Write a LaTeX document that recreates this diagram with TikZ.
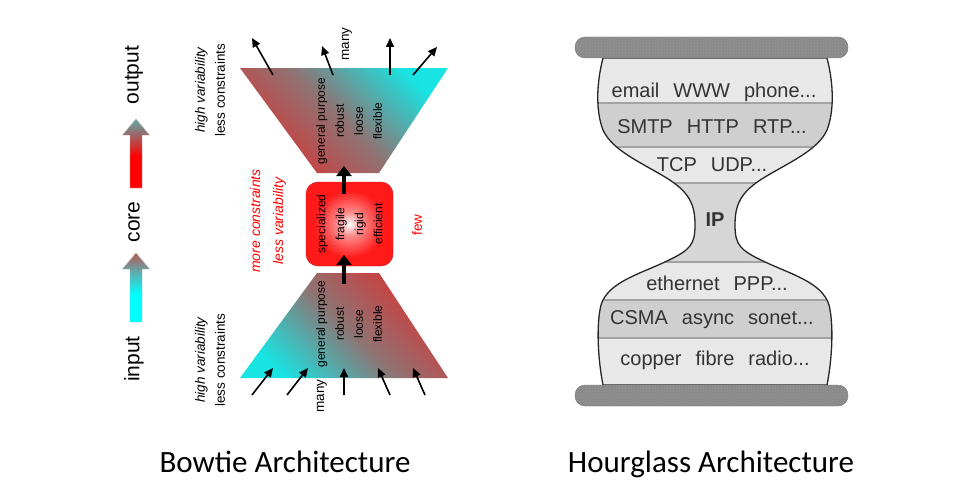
\documentclass[tikz,border=0pt]{standalone}
\usepackage{fontspec}
\setmainfont{Liberation Sans}
\newfontfamily\capfont{Carlito}
\usetikzlibrary{positioning, calc, arrows.meta, patterns}
\definecolor{bowRed}{HTML}{D63636}
\definecolor{bowTeal}{HTML}{19E3E3}
\definecolor{bowMid}{HTML}{8E7474}
\definecolor{legRed}{HTML}{FF0000}
\definecolor{legCyan}{HTML}{00FFFF}
\definecolor{legTop}{HTML}{5FA9A9}
\definecolor{legTopRed}{HTML}{B85656}
\definecolor{legMidTeal}{HTML}{57B3B3}
\definecolor{coreRed}{HTML}{FF1A1A}
\definecolor{corePink}{HTML}{FF8C8C}
\definecolor{coreEdge}{HTML}{C21212}
\definecolor{hgLight}{HTML}{E8E8E8}
\definecolor{hgDark}{HTML}{CFCFCF}
\definecolor{hgNeck}{HTML}{D6D6D6}
\definecolor{hgLine}{HTML}{A3A3A3}
\definecolor{hgBar}{HTML}{8A8A8A}
\definecolor{hgText}{HTML}{333333}

\pgfdeclareverticalshading{outArrow}{100bp}{color(0bp)=(legRed); color(25bp)=(legRed); color(48bp)=(legRed); color(66bp)=(bowMid); color(75bp)=(legTop); color(100bp)=(legTop)}
\pgfdeclareverticalshading{inArrow}{100bp}{color(0bp)=(legCyan); color(25bp)=(legCyan); color(45bp)=(legCyan); color(60bp)=(legMidTeal); color(75bp)=(legTopRed); color(100bp)=(legTopRed)}
\pgfdeclareradialshading{coreGlow}{\pgfpointorigin}{color(0bp)=(white); color(7bp)=(corePink); color(20bp)=(coreRed); color(50bp)=(coreRed)}

% word gap in the layer labels
\newcommand{\lgap}{\hspace{0.7em}}

% outline of the hourglass body
\newcommand{\hourglassPath}{(603,58) .. controls (596,85) and (596,112) .. (603,130)
  .. controls (612,150) and (640,162) .. (665,177)
  .. controls (690,192) and (695,205) .. (695,225)
  .. controls (695,245) and (690,250) .. (667,261)
  .. controls (640,274) and (608,282) .. (601,305)
  .. controls (596,325) and (598,360) .. (603,385)
  -- (827,385)
  .. controls (832,360) and (834,325) .. (829,305)
  .. controls (822,282) and (790,274) .. (763,261)
  .. controls (740,250) and (735,245) .. (735,225)
  .. controls (735,205) and (740,192) .. (765,177)
  .. controls (790,162) and (818,150) .. (827,130)
  .. controls (834,112) and (834,85) .. (827,58)
  -- cycle}

\begin{document}
\begin{tikzpicture}[x=1pt, y=-1pt,
    legtxt/.style={rotate=90, font=\fontsize{21}{24}\selectfont},
    bowtxt/.style={rotate=90, align=center, font=\fontsize{12}{19}\selectfont},
    sidetxt/.style={rotate=90, align=center, font=\fontsize{13.5}{20}\selectfont},
    redtxt/.style={rotate=90, align=center, text=legRed, font=\fontsize{14}{23}\selectfont\itshape},
    corebox/.style={rotate=90, rounded corners=12pt, shade, shading=coreGlow, draw=coreEdge,
        minimum width=84pt, minimum height=87pt, inner sep=0pt, align=center,
        font=\fontsize{12}{19}\selectfont},
    fatarr/.style={-{Triangle[length=10pt, width=15pt]}, line width=4pt},
    thinarr/.style={-{Triangle[length=9pt, width=8pt]}, line width=1.6pt},
    layertxt/.style={text=hgText, font=\fontsize{20}{22}\selectfont},
    bandline/.style={hgLine, line width=1.5pt},
    bar/.style={rounded corners=10pt, fill=hgBar, draw=black!55},
    captxt/.style={anchor=base, font=\capfont\fontsize{31}{36}\selectfont},
]
\useasboundingbox (0,0) rectangle (960,495);

% legend
\foreach \yb/\shd in {188/outArrow, 322/inArrow}
  \path[shade, shading=\shd, draw=black!30]
    (130,\yb) -- (130,{\yb-53}) -- (122.5,{\yb-53}) -- (136,{\yb-69})
    -- (149.5,{\yb-53}) -- (142,{\yb-53}) -- (142,\yb) -- cycle;
\node[legtxt] (outLbl) at (134,75) {output};
\node[legtxt] (coreLbl) at (134,222) {core};
\node[legtxt] (inLbl) at (134,359) {input};

% bowtie
\shade[bottom color=bowRed, top color=bowTeal, middle color=bowMid, shading angle=-45]
  (240,68) -- (448,68) -- (379,173) -- (317,173) -- cycle;
\shade[bottom color=bowTeal, top color=bowRed, middle color=bowMid, shading angle=-45]
  (240,378) -- (448,378) -- (379,273) -- (317,273) -- cycle;

\node[bowtxt] (outTxt) at (349,121) {general purpose\\robust\\loose\\flexible};
\node[bowtxt] (inTxt) at (349,324) {general purpose\\robust\\loose\\flexible};
\node[corebox] (core) at (349.5,224) {specialized\\fragile\\rigid\\efficient};

\coordinate (coreTop) at (344,194);
\coordinate (outNeck) at (344,166);
\coordinate (inNeck) at (344,284);
\coordinate (coreBot) at (344,255);
\draw[fatarr] (coreTop) -- (outNeck);
\draw[fatarr] (inNeck) -- (coreBot);

\foreach \sx/\sy/\ex/\ey [count=\i] in {273/75/252/38, 333/75/322/46, 390/75/390/38, 413/75/437/47} {
  \coordinate (outS\i) at (\sx,\sy);
  \coordinate (outE\i) at (\ex,\ey);
  \draw[thinarr] (outS\i) -- (outE\i);
}
\foreach \sx/\sy/\ex/\ey [count=\i] in {252/395/273/368, 287/395/308/368, 344/395/344/368, 390/395/378/368, 425/395/413/368} {
  \coordinate (inS\i) at (\sx,\sy);
  \coordinate (inE\i) at (\ex,\ey);
  \draw[thinarr] (inS\i) -- (inE\i);
}

\node[sidetxt] (outSide) at (210,90) {{\itshape high variability}\\less constraints};
\node[sidetxt] (inSide) at (210,360) {{\itshape high variability}\\less constraints};
\node[redtxt] (midSide) at (268,221) {more constraints\\less variability};
\node[sidetxt, text=legRed] (fewLbl) at (417,225) {few};
\node[sidetxt] (manyTop) at (347,44) {many};
\node[sidetxt] (manyBot) at (322,396) {many};

% hourglass
\begin{scope}
  \clip \hourglassPath;
  \foreach \ya/\yz/\cl in {50/103/hgLight, 103/147/hgDark, 147/183/hgLight, 183/262/hgNeck,
      262/300/hgLight, 300/338/hgDark, 338/392/hgLight}
    \fill[\cl] (590,\ya) rectangle (840,\yz);
  \foreach \ly in {103,147,183,262,300,338}
    \draw[bandline] (590,\ly) -- (840,\ly);
\end{scope}
\draw[black!85, line width=1.3pt] \hourglassPath;

\foreach \yt in {37,385} {
  \path[bar] (575,\yt) rectangle (848,{\yt+21});
  \fill[pattern=crosshatch dots, pattern color=black!40, rounded corners=10pt] (575,\yt) rectangle (848,{\yt+21});
}

\node[layertxt] (appL) at (714,92) {email\lgap WWW\lgap phone...};
\node[layertxt] (sessL) at (712,127) {SMTP\lgap HTTP\lgap RTP...};
\node[layertxt] (transL) at (712,165) {TCP\lgap UDP...};
\node[layertxt, font=\fontsize{20}{22}\selectfont\bfseries] (ipL) at (715,220) {IP};
\node[layertxt] (linkL) at (717,283) {ethernet\lgap PPP...};
\node[layertxt] (macL) at (712,320) {CSMA\lgap async\lgap sonet...};
\node[layertxt] (physL) at (715,360) {copper\lgap fibre\lgap radio...};

% captions
\node[captxt] (bowCap) at (285,472) {Bowtie Architecture};
\node[captxt] (hgCap) at (711,472) {Hourglass Architecture};
\end{tikzpicture}
\end{document}
